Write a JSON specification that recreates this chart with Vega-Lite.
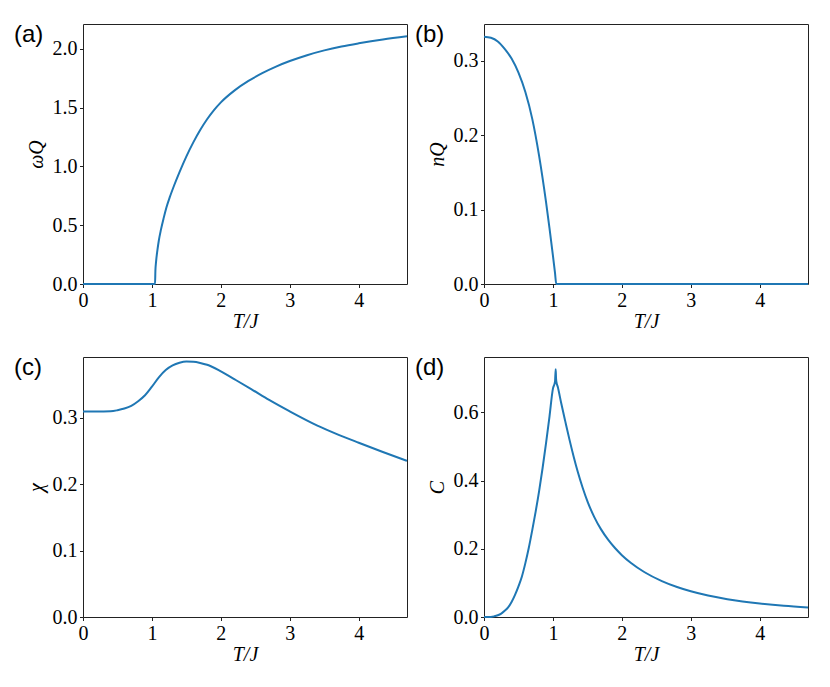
{
  "$schema": "https://vega.github.io/schema/vega-lite/v6.json",
  "padding": {"left": 13, "top": 22, "right": 10, "bottom": 10},
  "background": "white",
  "datasets": {
    "a": [
      {"T": 0, "v": 0}, {"T": 0.5, "v": 0}, {"T": 1.0, "v": 0}, {"T": 1.045, "v": 0},
      {"T": 1.05, "v": 0.11}, {"T": 1.06, "v": 0.19}, {"T": 1.08, "v": 0.29}, {"T": 1.10, "v": 0.37},
      {"T": 1.13, "v": 0.46}, {"T": 1.17, "v": 0.56}, {"T": 1.21, "v": 0.65}, {"T": 1.26, "v": 0.74},
      {"T": 1.32, "v": 0.835}, {"T": 1.40, "v": 0.951}, {"T": 1.50, "v": 1.085}, {"T": 1.60, "v": 1.204},
      {"T": 1.70, "v": 1.309}, {"T": 1.80, "v": 1.4}, {"T": 1.90, "v": 1.478}, {"T": 2.00, "v": 1.544},
      {"T": 2.20, "v": 1.646}, {"T": 2.40, "v": 1.726}, {"T": 2.60, "v": 1.792}, {"T": 2.80, "v": 1.848},
      {"T": 3.00, "v": 1.895}, {"T": 3.25, "v": 1.945}, {"T": 3.50, "v": 1.986}, {"T": 3.75, "v": 2.019},
      {"T": 4.00, "v": 2.046}, {"T": 4.35, "v": 2.079}, {"T": 4.70, "v": 2.106}
    ],
    "b": [
      {"T": 0, "v": 0.3325}, {"T": 0.1, "v": 0.331}, {"T": 0.2, "v": 0.326}, {"T": 0.3, "v": 0.316},
      {"T": 0.4, "v": 0.303}, {"T": 0.5, "v": 0.284}, {"T": 0.6, "v": 0.258}, {"T": 0.7, "v": 0.222},
      {"T": 0.8, "v": 0.172}, {"T": 0.9, "v": 0.11}, {"T": 0.95, "v": 0.075}, {"T": 1.0, "v": 0.038},
      {"T": 1.03, "v": 0.015}, {"T": 1.048, "v": 0}, {"T": 2, "v": 0}, {"T": 3, "v": 0}, {"T": 4.7, "v": 0}
    ],
    "c": [
      {"T": 0, "v": 0.3097}, {"T": 0.2, "v": 0.3097}, {"T": 0.4, "v": 0.31}, {"T": 0.5, "v": 0.3115},
      {"T": 0.6, "v": 0.314}, {"T": 0.7, "v": 0.318}, {"T": 0.8, "v": 0.325}, {"T": 0.9, "v": 0.334},
      {"T": 1.0, "v": 0.347}, {"T": 1.1, "v": 0.361}, {"T": 1.2, "v": 0.372}, {"T": 1.3, "v": 0.379},
      {"T": 1.4, "v": 0.383}, {"T": 1.5, "v": 0.3848}, {"T": 1.6, "v": 0.3845}, {"T": 1.7, "v": 0.3828},
      {"T": 1.8, "v": 0.38}, {"T": 2.0, "v": 0.37}, {"T": 2.2, "v": 0.358}, {"T": 2.44, "v": 0.3434},
      {"T": 2.7, "v": 0.327}, {"T": 3.0, "v": 0.3097}, {"T": 3.4, "v": 0.2883}, {"T": 3.7, "v": 0.2748},
      {"T": 4.0, "v": 0.2625}, {"T": 4.35, "v": 0.2486}, {"T": 4.7, "v": 0.2352}
    ],
    "d": [
      {"T": 0, "v": 0}, {"T": 0.1, "v": 0.0003}, {"T": 0.15, "v": 0.002}, {"T": 0.2, "v": 0.005},
      {"T": 0.25, "v": 0.01}, {"T": 0.3, "v": 0.018}, {"T": 0.35, "v": 0.028}, {"T": 0.4, "v": 0.044},
      {"T": 0.45, "v": 0.065}, {"T": 0.5, "v": 0.09}, {"T": 0.55, "v": 0.119}, {"T": 0.6, "v": 0.158},
      {"T": 0.65, "v": 0.203}, {"T": 0.7, "v": 0.255}, {"T": 0.75, "v": 0.31}, {"T": 0.8, "v": 0.37},
      {"T": 0.85, "v": 0.437}, {"T": 0.9, "v": 0.51}, {"T": 0.95, "v": 0.588}, {"T": 1.0, "v": 0.67},
      {"T": 1.03, "v": 0.69}, {"T": 1.04, "v": 0.727}, {"T": 1.045, "v": 0.70}, {"T": 1.05, "v": 0.69},
      {"T": 1.07, "v": 0.675}, {"T": 1.118, "v": 0.629}, {"T": 1.18, "v": 0.573}, {"T": 1.239, "v": 0.521},
      {"T": 1.3, "v": 0.471}, {"T": 1.36, "v": 0.426}, {"T": 1.43, "v": 0.38}, {"T": 1.505, "v": 0.337},
      {"T": 1.6, "v": 0.293}, {"T": 1.698, "v": 0.257}, {"T": 1.8, "v": 0.2269}, {"T": 1.9, "v": 0.2023},
      {"T": 2.0, "v": 0.1814}, {"T": 2.133, "v": 0.1584}, {"T": 2.33, "v": 0.1313}, {"T": 2.58, "v": 0.1054},
      {"T": 2.8, "v": 0.088}, {"T": 3.0, "v": 0.0755}, {"T": 3.25, "v": 0.063}, {"T": 3.53, "v": 0.0522},
      {"T": 3.75, "v": 0.0456}, {"T": 4.0, "v": 0.0394}, {"T": 4.35, "v": 0.0327}, {"T": 4.7, "v": 0.028}
    ]
  },
  "columns": 2,
  "bounds": "flush",
  "spacing": {"row": 73, "column": 77},
  "concat": [
    {
      "width": 324, "height": 260,
      "title": {"text": "(a)"},
      "data": {"name": "a"},
      "mark": {"type": "line", "interpolate": "monotone"},
      "encoding": {
        "x": {"field": "T", "type": "quantitative", "scale": {"domain": [0, 4.7], "nice": false, "zero": false},
              "axis": {"title": "T/J", "values": [0, 1, 2, 3, 4], "format": "d"}},
        "y": {"field": "v", "type": "quantitative", "scale": {"domain": [0, 2.21], "nice": false},
              "axis": {"title": "ωQ", "values": [0, 0.5, 1, 1.5, 2], "format": ".1f"}}
      }
    },
    {
      "width": 324, "height": 260,
      "title": {"text": "(b)"},
      "data": {"name": "b"},
      "mark": {"type": "line", "interpolate": "monotone"},
      "encoding": {
        "x": {"field": "T", "type": "quantitative", "scale": {"domain": [0, 4.7], "nice": false, "zero": false},
              "axis": {"title": "T/J", "values": [0, 1, 2, 3, 4], "format": "d"}},
        "y": {"field": "v", "type": "quantitative", "scale": {"domain": [0, 0.3495], "nice": false},
              "axis": {"title": "nQ", "values": [0, 0.1, 0.2, 0.3], "format": ".1f"}}
      }
    },
    {
      "width": 324, "height": 260,
      "title": {"text": "(c)"},
      "data": {"name": "c"},
      "mark": {"type": "line", "interpolate": "monotone"},
      "encoding": {
        "x": {"field": "T", "type": "quantitative", "scale": {"domain": [0, 4.7], "nice": false, "zero": false},
              "axis": {"title": "T/J", "values": [0, 1, 2, 3, 4], "format": "d"}},
        "y": {"field": "v", "type": "quantitative", "scale": {"domain": [0, 0.3917], "nice": false},
              "axis": {"title": "χ", "values": [0, 0.1, 0.2, 0.3], "format": ".1f"}}
      }
    },
    {
      "width": 324, "height": 260,
      "title": {"text": "(d)"},
      "data": {"name": "d"},
      "mark": {"type": "line", "interpolate": "monotone"},
      "encoding": {
        "x": {"field": "T", "type": "quantitative", "scale": {"domain": [0, 4.7], "nice": false, "zero": false},
              "axis": {"title": "T/J", "values": [0, 1, 2, 3, 4], "format": "d"}},
        "y": {"field": "v", "type": "quantitative", "scale": {"domain": [0, 0.7626], "nice": false},
              "axis": {"title": "C", "values": [0, 0.2, 0.4, 0.6], "format": ".1f"}}
      }
    }
  ],
  "config": {
    "view": {"stroke": "#222222", "strokeWidth": 1},
    "line": {"color": "#1f77b4", "strokeWidth": 2},
    "title": {
      "anchor": "start", "frame": "group", "dx": -69, "dy": 27, "offset": 0,
      "baseline": "alphabetic", "font": "Liberation Sans", "fontSize": 24,
      "fontWeight": "normal", "color": "black"
    },
    "axis": {
      "grid": false, "domain": false,
      "tickColor": "#222222", "tickSize": 3.5, "tickWidth": 1,
      "labelFont": "Liberation Serif", "labelFontSize": 20, "labelColor": "black",
      "labelPadding": 2.5, "labelFlush": false, "labelOverlap": false,
      "titleFont": "Liberation Serif", "titleFontSize": 20, "titleFontStyle": "italic",
      "titleFontWeight": "normal", "titleColor": "black"
    },
    "axisX": {"titleX": 162, "titleY": 43, "titleBaseline": "alphabetic"},
    "axisY": {"titleX": -41, "titleY": 130, "titleBaseline": "alphabetic"}
  }
}
